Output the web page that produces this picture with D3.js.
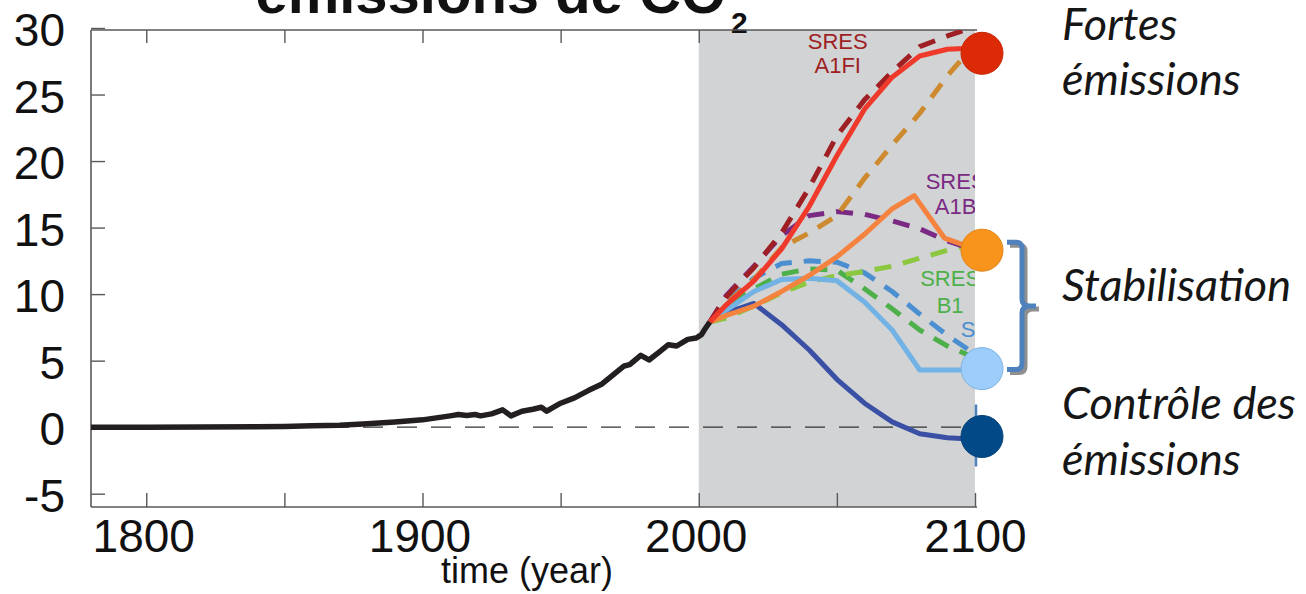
<!DOCTYPE html>
<html>
<head>
<meta charset="utf-8">
<script src="https://cdn.jsdelivr.net/npm/d3@7"></script>
<style>
  html, body { margin: 0; padding: 0; background: #fff; }
  svg { display: block; }
</style>
</head>
<body>
<svg id="chart" width="1306" height="594"></svg>
<script>
// Historical fossil CO2 emissions (GtC / year)
const histYears = [1780, 1800, 1820, 1840, 1850, 1860, 1870, 1880, 1890, 1900, 1905, 1910, 1913, 1916, 1919, 1921, 1925, 1929, 1932, 1936, 1940, 1943, 1945, 1947, 1950, 1955, 1960, 1965, 1970, 1973, 1975, 1979, 1982, 1986, 1989, 1992, 1996, 1999, 2001, 2002, 2004];
const histValues = [0, 0, 0.01, 0.03, 0.05, 0.1, 0.15, 0.25, 0.38, 0.55, 0.7, 0.85, 0.95, 0.88, 0.95, 0.85, 1.0, 1.3, 0.85, 1.2, 1.35, 1.5, 1.2, 1.45, 1.8, 2.2, 2.75, 3.25, 4.1, 4.6, 4.7, 5.4, 5.05, 5.7, 6.2, 6.1, 6.6, 6.7, 6.95, 7.3, 7.9];

// Scenario projections
const scenarioYears = [2004, 2010, 2020, 2030, 2040, 2050, 2060, 2070, 2080, 2090, 2100];
const a1fiValues      = [7.9, 9.8, 12.0, 14.6, 18.0, 21.9, 24.6, 26.7, 28.6, 29.4, 30.1];
const a2Values        = [7.9, 9.3, 11.1, 13.5, 14.6, 15.9, 18.7, 21.2, 23.6, 26.4, 28.8];
const a1bValues       = [7.9, 9.9, 12.1, 14.4, 15.9, 16.2, 16.0, 15.5, 14.9, 14.0, 13.3];
const b1Values        = [7.9, 8.2, 9.1, 10.1, 10.9, 11.4, 11.7, 12.1, 12.7, 13.3, 13.8];
const b2Values        = [7.9, 9.4, 11.2, 12.3, 12.5, 12.4, 11.6, 10.2, 8.5, 6.9, 5.5];
const b1lowValues     = [7.9, 9.0, 10.4, 11.5, 11.9, 11.8, 10.4, 8.9, 7.3, 6.1, 5.2];
const highValues      = [7.9, 9.2, 11.0, 13.4, 16.6, 20.4, 23.9, 26.3, 27.9, 28.4, 28.5];
const stab550Values   = [7.9, 8.8, 10.2, 11.1, 11.2, 11.0, 9.4, 7.3, 4.3, 4.3, 4.3];
const controlValues   = [7.9, 8.6, 9.3, 7.7, 5.8, 3.6, 1.8, 0.4, -0.5, -0.8, -0.9];
const stabPeakYears   = [2004, 2010, 2020, 2030, 2040, 2050, 2060, 2070, 2078, 2089, 2100];
const stabPeakValues  = [7.9, 8.4, 9.1, 10.2, 11.4, 12.8, 14.5, 16.4, 17.4, 14.2, 13.4];

// End-of-century markers
const markerNames  = ["Fortes émissions", "Stabilisation haute", "Stabilisation basse", "Contrôle des émissions"];
const markerValues = [28.1, 13.3, 4.4, -0.7];
const markerColors = ["#dc2a06", "#f8941c", "#9dcdfa", "#014987"];

const xTicks = [1800, 1850, 1900, 1950, 2000, 2050, 2100];
const xLabelTicks = [1800, 1900, 2000, 2100];
const yTicks = [-5, 0, 5, 10, 15, 20, 25, 30];

const svg = d3.select("#chart");
const W = 1306, H = 594;
const pLeft = 91, pRight = 975, pTop = 30, pBottom = 507;

const x = d3.scaleLinear().domain([1780, 2100]).range([pLeft, pRight]);
const y = d3.scaleLinear().domain([-6, 29.85]).range([pBottom, pTop]);

const axisColor = "#58595b";
const numFont = "'Liberation Sans', Arial, sans-serif";

svg.append("rect").attr("width", W).attr("height", H).attr("fill", "#fff");

// Clip for everything drawn inside the plotting frame
svg.append("defs").append("clipPath").attr("id", "plot-clip")
  .append("rect").attr("x", pLeft).attr("y", pTop).attr("width", pRight - pLeft).attr("height", pBottom - pTop);

// Projection period shading
svg.append("rect")
  .attr("x", x(2000)).attr("y", pTop)
  .attr("width", x(2100) - x(2000)).attr("height", pBottom - pTop)
  .attr("fill", "#d1d3d4");

// Title (partly above the frame)
svg.append("text")
  .attr("x", 726).attr("y", 13)
  .attr("text-anchor", "end")
  .attr("font-family", numFont).attr("font-weight", "bold").attr("font-size", 58)
  .attr("fill", "#111")
  .text("émissions de CO");
svg.append("text")
  .attr("x", 731).attr("y", 33)
  .attr("font-family", numFont).attr("font-weight", "bold").attr("font-size", 30)
  .attr("fill", "#111")
  .text("2");

// Axes
function styleAxis(g) {
  g.selectAll("path.domain").attr("stroke", axisColor).attr("stroke-width", 1.6);
  g.selectAll(".tick line").attr("stroke", axisColor).attr("stroke-width", 1.4);
  g.selectAll(".tick text").attr("fill", "#111").attr("font-family", numFont);
}

const xAxis = svg.append("g")
  .attr("transform", `translate(0,${pBottom})`)
  .call(d3.axisBottom(x).tickValues(xTicks).tickSizeInner(-14).tickSizeOuter(0)
    .tickPadding(12).tickFormat(d => xLabelTicks.includes(d) ? String(d) : ""));
styleAxis(xAxis);
xAxis.selectAll(".tick text").attr("font-size", 46).attr("dx", d => d < 2100 ? -3 : 0);
xAxis.select("path.domain").attr("d", `M${pLeft},0H${pRight + 2}`);

const topAxis = svg.append("g")
  .attr("transform", `translate(0,${pTop})`)
  .call(d3.axisTop(x).tickValues(xTicks.filter(d => d <= 2000)).tickSizeInner(-13).tickSizeOuter(0).tickFormat(""));
styleAxis(topAxis);
topAxis.select("path.domain").attr("d", `M${pLeft},0H${pRight + 2}`);

const yAxis = svg.append("g")
  .attr("transform", `translate(${pLeft},0)`)
  .call(d3.axisLeft(y).tickValues(yTicks).tickSizeInner(-14).tickSizeOuter(0)
    .tickPadding(26).tickFormat(d => String(d)));
styleAxis(yAxis);
yAxis.selectAll(".tick text").attr("font-size", 46).attr("dy", "0.38em");
yAxis.select("path.domain").attr("d", `M0,${pTop}V${pBottom}`);

svg.append("text")
  .attr("x", 527).attr("y", 583)
  .attr("text-anchor", "middle")
  .attr("font-family", numFont).attr("font-size", 36)
  .attr("fill", "#111")
  .text("time (year)");

// Zero reference line
const plot = svg.append("g").attr("clip-path", "url(#plot-clip)");
plot.append("line")
  .attr("x1", x(1780)).attr("x2", x(2100))
  .attr("y1", y(0)).attr("y2", y(0))
  .attr("stroke", "#333").attr("stroke-width", 1.3)
  .attr("stroke-dasharray", "20,14");

// Projection lines
const series = [
  { years: scenarioYears, values: b2Values,      color: "#4b8fd0", dashed: true },
  { years: scenarioYears, values: b1lowValues,   color: "#4db04a", dashed: true },
  { years: scenarioYears, values: b1Values,      color: "#8cc83f", dashed: true },
  { years: scenarioYears, values: a1bValues,     color: "#7b2a84", dashed: true },
  { years: scenarioYears, values: a2Values,      color: "#cd8a2f", dashed: true },
  { years: scenarioYears, values: a1fiValues,    color: "#9e1f24", dashed: true },
  { years: scenarioYears, values: controlValues, color: "#3a50a5", dashed: false },
  { years: scenarioYears, values: stab550Values, color: "#72b2e4", dashed: false },
  { years: stabPeakYears, values: stabPeakValues, color: "#f58340", dashed: false },
  { years: scenarioYears, values: highValues,    color: "#ef3a2b", dashed: false }
];

const lineGen = d3.line().x(d => x(d[0])).y(d => y(d[1]));

series.forEach(s => {
  plot.append("path")
    .datum(s.years.map((yr, i) => [yr, s.values[i]]))
    .attr("d", lineGen)
    .attr("fill", "none")
    .attr("stroke", s.color)
    .attr("stroke-width", 5)
    .attr("stroke-linejoin", "round")
    .attr("stroke-dasharray", s.dashed ? "17,12" : null);
});

// Historical record
plot.append("path")
  .datum(histYears.map((yr, i) => [yr, histValues[i]]))
  .attr("d", lineGen)
  .attr("fill", "none")
  .attr("stroke", "#231f20")
  .attr("stroke-width", 5.5)
  .attr("stroke-linejoin", "round");

// Scenario labels
const labelFont = 22;
function addLabel(lines, color, yr, v, anchor) {
  const t = plot.append("text")
    .attr("font-family", numFont).attr("font-size", labelFont)
    .attr("fill", color).attr("text-anchor", anchor || "middle");
  lines.forEach((s, i) => {
    t.append("tspan").attr("x", x(yr)).attr("y", y(v[i])).text(s);
  });
}
addLabel(["SRES", "A1FI"], "#9e1f24", 2050.3, [28.4, 26.6]);
addLabel(["SRES", "A1B"], "#7b2a84", 2093, [17.9, 16.0]);
addLabel(["SRES", "B1"], "#4db04a", 2091, [10.6, 8.6]);
addLabel(["SRES"], "#4b8fd0", 2094.8, [6.8], "start");

// Bracket around the stabilisation markers
const bx = 1022, by0 = y(markerValues[1]) - 8, by1 = y(markerValues[2]) + 1, bm = (by0 + by1) / 2;
const bracketPath = `M1007,${by0}H1016Q${bx},${by0} ${bx},${by0 + 6}V${bm - 7}Q${bx},${bm} ${bx + 8},${bm}H1036` +
  `M${bx + 8},${bm}Q${bx},${bm} ${bx},${bm + 7}V${by1 - 6}Q${bx},${by1} 1016,${by1}H1007`;
svg.append("path").attr("d", bracketPath).attr("transform", "translate(3,3)")
  .attr("fill", "none").attr("stroke", "#8f8f8f").attr("stroke-width", 5);
svg.append("path").attr("d", bracketPath)
  .attr("fill", "none").attr("stroke", "#4f81bd").attr("stroke-width", 5);

// Short bracket stub by the lowest marker
svg.append("line")
  .attr("x1", x(2100) + 1).attr("x2", x(2100) + 1)
  .attr("y1", y(markerValues[3]) - 32).attr("y2", y(markerValues[3]) + 30)
  .attr("stroke", "#4f81bd").attr("stroke-width", 2.5);

// End-of-century markers
svg.selectAll("circle.marker")
  .data(markerValues)
  .join("circle")
  .attr("class", "marker")
  .attr("cx", x(2100) + 7)
  .attr("cy", d => y(d))
  .attr("r", 21)
  .attr("fill", (d, i) => markerColors[i])
  .attr("stroke", (d, i) => i === 2 ? "#7fb2e0" : d3.color(markerColors[i]).darker(0.3))
  .attr("stroke-width", 1);

// Category annotations
const noteFont = "Lato, 'Open Sans', sans-serif";
const notes = [
  ["Fortes", 40], ["émissions", 95],
  ["Stabilisation", 301],
  ["Contrôle des", 419], ["émissions", 475]
];
notes.forEach(([txt, yy]) => {
  svg.append("text")
    .attr("x", 1062).attr("y", yy)
    .attr("font-family", noteFont).attr("font-style", "italic").attr("font-size", 45)
    .attr("fill", "#161616")
    .text(txt);
});
</script>
</body>
</html>
